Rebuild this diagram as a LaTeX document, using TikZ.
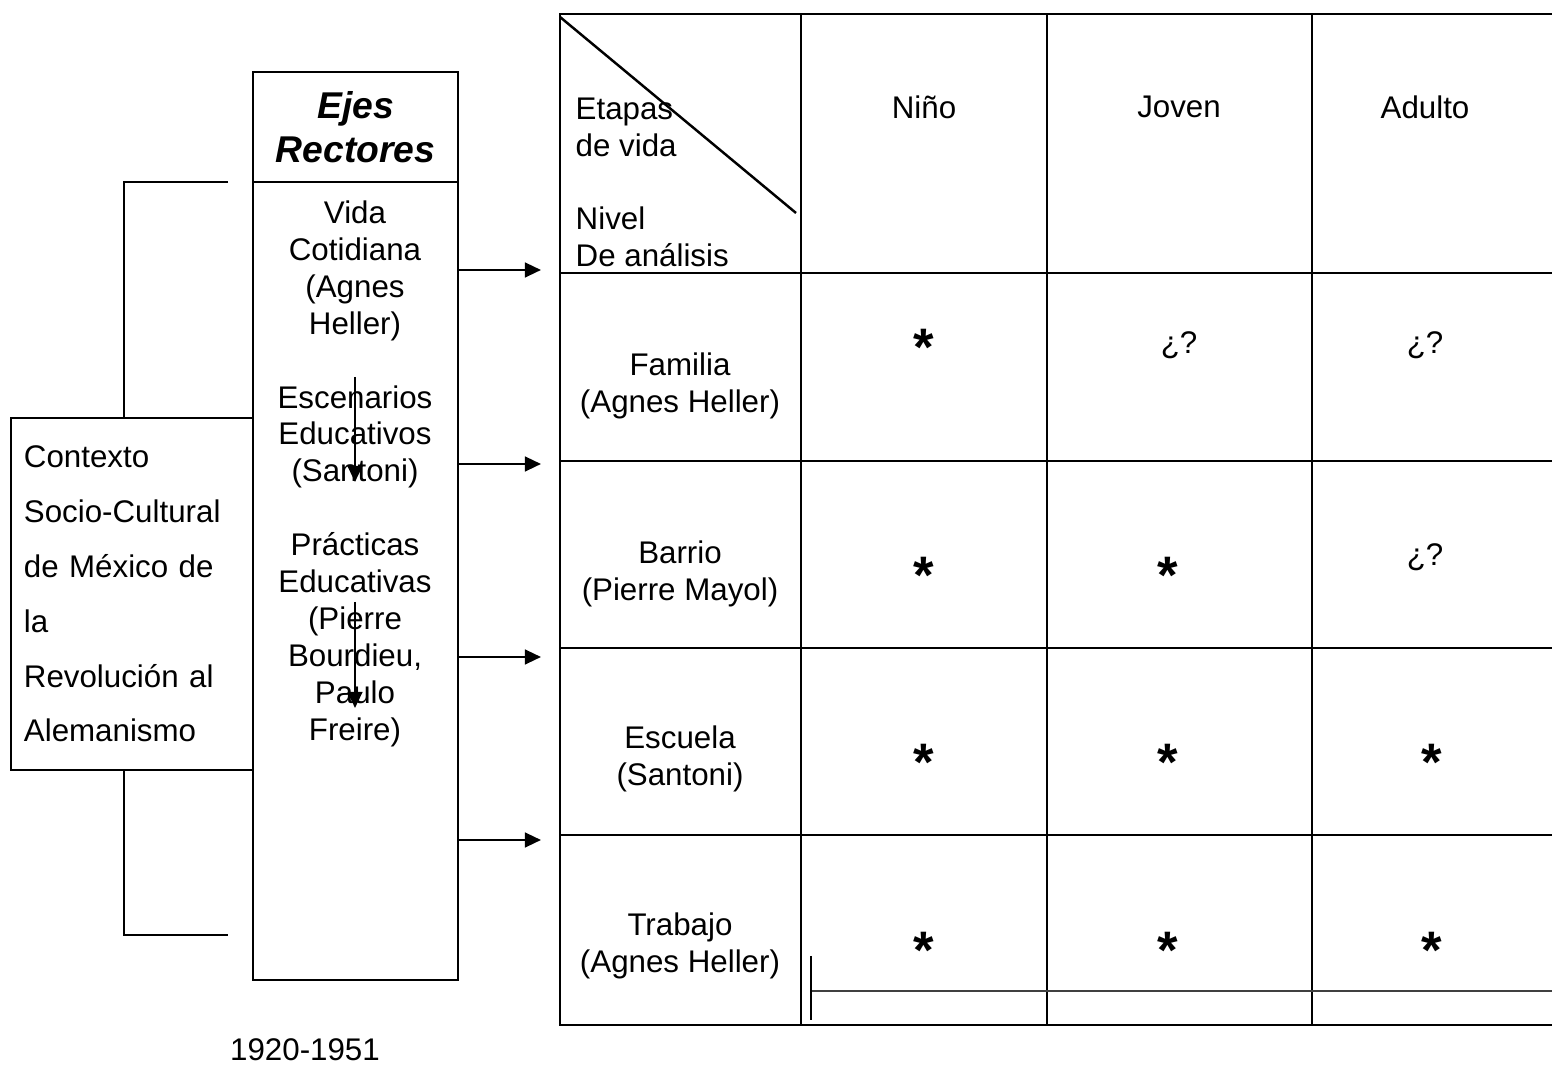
\documentclass[tikz,border=0pt]{standalone}
\usepackage{fontspec}
\setmainfont{Liberation Sans}
\usetikzlibrary{arrows.meta}

\begin{document}
\begin{tikzpicture}[x=0.01cm,y=-0.01cm,
	every node/.style={inner sep=0pt,font=\fontsize{8.9}{10.5}\selectfont},
	linea/.style={line width=0.7pt},
	flecha/.style={line width=0.7pt,-{Triangle[length=4.6pt,width=4.2pt]}},
	estrella/.style={font=\fontsize{15}{15}\selectfont\bfseries},
	duda/.style={font=\fontsize{8.9}{10.5}\selectfont}]
	\useasboundingbox (0,0) rectangle (1552,1068);
	% contexto y corchete
	\node[draw,linea,minimum width=2.42cm,minimum height=3.52cm] (contexto) at (132,594) {};
	\node[text width=2.16cm,align=left,font=\fontsize{8.9}{15.6}\selectfont] (ctxtexto) at (contexto.center) {Contexto\\Socio-Cultural\\de México de\\la\\Revolución al\\Alemanismo};
	\draw[linea] (228,182) -- (124,182) -- (124,418);
	\draw[linea] (124,770) -- (124,935) -- (228,935);
	% ejes rectores
	\node[draw,linea,minimum width=2.05cm,minimum height=1.1cm] (ejestitulo) at (355.5,127) {};
	\node[align=center,font=\fontsize{10.6}{12.5}\selectfont\bfseries\itshape] at (ejestitulo.center) {Ejes\\Rectores};
	\node[draw,linea,minimum width=2.05cm,minimum height=7.98cm] (ejes) at (355.5,581) {};
	\node[align=center,anchor=north] (ejestexto) at (355,200) {Vida\\Cotidiana\\(Agnes\\Heller)\\[10.5pt]Escenarios\\Educativos\\(Santoni)\\[10.5pt]Prácticas\\Educativas\\(Pierre\\Bourdieu,\\Paulo\\Freire)};
	\coordinate (e1) at (355,377);
	\coordinate (e2) at (355,482);
	\coordinate (e3) at (355,602);
	\coordinate (e4) at (355,708);
	\draw[flecha] (e1) -- (e2);
	\draw[flecha] (e3) -- (e4);
	\node (fechas) at (305,1050) {1920-1951};
	% flechas hacia la tabla
	\coordinate (t1) at (541,270);
	\coordinate (t2) at (541,464);
	\coordinate (t3) at (541,657);
	\coordinate (t4) at (541,840);
	\draw[flecha] (ejes.east |- t1) -- (t1);
	\draw[flecha] (ejes.east |- t2) -- (t2);
	\draw[flecha] (ejes.east |- t3) -- (t3);
	\draw[flecha] (ejes.east |- t4) -- (t4);
	% tabla
	\draw[line width=0.8pt] (1552,14) -- (560,14) -- (560,1025) -- (1552,1025);
	\draw[line width=0.8pt] (560,273) -- (1552,273);
	\draw[line width=0.8pt] (560,461) -- (1552,461);
	\draw[line width=0.8pt] (560,648) -- (1552,648);
	\draw[line width=0.8pt] (560,835) -- (1552,835);
	\draw[line width=0.8pt] (801,14) -- (801,1025);
	\draw[line width=0.8pt] (1047,14) -- (1047,1025);
	\draw[line width=0.8pt] (1312,14) -- (1312,1025);
	\draw[linea] (560,17) -- (796,213);
	\draw[line width=0.7pt,black!75] (811,991) -- (1552,991);
	\draw[linea] (811,956) -- (811,1020);
	\node[align=left,anchor=north west] (esquina) at (575,97) {Etapas\\de vida\\[10.5pt]Nivel\\De análisis};
	\node (nino) at (924,107) {Niño};
	\node (joven) at (1179,107) {Joven};
	\node (adulto) at (1425,107) {Adulto};
	\node[align=center] (familia) at (680,386) {Familia\\(Agnes Heller)};
	\node[align=center] (barrio) at (680,574) {Barrio\\(Pierre Mayol)};
	\node[align=center] (escuela) at (680,759) {Escuela\\(Santoni)};
	\node[align=center] (trabajo) at (680,946) {Trabajo\\(Agnes Heller)};
	\node[estrella] (fn) at (924,347) {*};
	\node[duda] (fj) at (1179,345) {¿?};
	\node[duda] (fa) at (1425,345) {¿?};
	\node[estrella] (bn) at (924,575) {*};
	\node[estrella] (bj) at (1168,575) {*};
	\node[duda] (ba) at (1425,557) {¿?};
	\node[estrella] (en) at (924,762) {*};
	\node[estrella] (ej) at (1168,762) {*};
	\node[estrella] (ea) at (1432,762) {*};
	\node[estrella] (tn) at (924,950) {*};
	\node[estrella] (tj) at (1168,950) {*};
	\node[estrella] (ta) at (1432,950) {*};
\end{tikzpicture}
\end{document}
